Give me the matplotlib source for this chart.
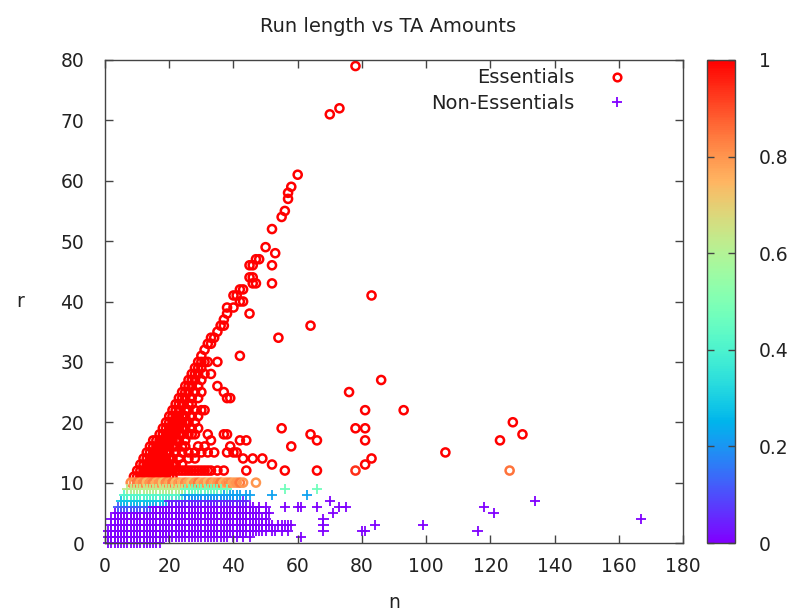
import numpy as np
import matplotlib
matplotlib.use("Agg")
import matplotlib.pyplot as plt
from matplotlib.lines import Line2D
from matplotlib.colors import Normalize
from matplotlib.cm import ScalarMappable

# essential runs, red (probability 1): n -> list of r
ess_cols = {
    9: [11],
    10: [11, 12],
    11: [11, 12, 13],
    12: [11, 12, 13, 14],
    13: [11, 12, 13, 14, 15],
    14: [11, 12, 13, 14, 15, 16],
    15: [11, 12, 13, 14, 15, 16, 17],
    16: [11, 12, 13, 14, 15, 16, 17],
    17: [11, 12, 13, 14, 15, 16, 17, 18],
    18: [11, 12, 13, 14, 15, 16, 17, 18, 19],
    19: [11, 12, 13, 14, 15, 16, 17, 18, 19, 20],
    20: [11, 12, 13, 14, 15, 16, 17, 18, 19, 20, 21],
    21: [11, 12, 13, 14, 16, 17, 18, 19, 20, 21, 22],
    22: [12, 13, 15, 16, 17, 18, 19, 20, 21, 22, 23],
    23: [12, 14, 17, 18, 19, 20, 21, 22, 23, 24],
    24: [12, 13, 15, 16, 18, 19, 20, 21, 23, 24, 25],
    25: [12, 16, 17, 19, 20, 21, 22, 24, 25, 26],
    26: [12, 14, 15, 18, 20, 22, 23, 25, 26, 27],
    27: [12, 18, 19, 21, 23, 24, 26, 27, 28],
    28: [12, 14, 15, 18, 20, 22, 25, 27, 28, 29],
    29: [12, 16, 19, 21, 24, 26, 28, 29, 30],
    30: [12, 15, 22, 25, 27, 29, 30, 31],
    31: [12, 16, 22, 28, 30, 32],
    32: [12, 15, 18, 30, 33],
    33: [12, 17, 28, 33, 34],
    34: [15, 34],
    35: [12, 26, 30, 35],
    36: [36],
    37: [12, 18, 25, 36, 37],
    38: [15, 18, 24, 38, 39],
    39: [16, 24],
    40: [15, 39, 41],
    41: [15, 41],
    42: [17, 31, 40, 42],
    43: [14, 40, 42],
    44: [12, 17],
    45: [38, 44, 46],
    46: [14, 43, 44, 46],
    47: [43, 47],
    48: [47],
    49: [14],
    50: [49],
    52: [13, 43, 46, 52],
    53: [48],
    54: [34],
    55: [19, 54],
    56: [12, 55],
    57: [57, 58],
    58: [16, 59],
    60: [61],
    64: [18, 36],
    66: [12, 17],
    70: [71],
    73: [72],
    76: [25],
    78: [19, 79],
    81: [13, 17, 19, 22],
    83: [14, 41],
    86: [27],
    93: [22],
    106: [15],
    123: [17],
    127: [20],
    130: [18],
}
ess_cols_prob = 1.0

# essential runs with a lower score
ess_low_n = [8, 9, 10, 11, 12, 13, 14, 15, 16, 17, 18, 19, 20, 21, 22, 23, 24,
             25, 26, 27, 28, 29, 30, 31, 32, 33, 34, 35, 36, 37, 38, 39, 40, 41,
             42, 43, 47, 78, 126]
ess_low_r = [10, 10, 10, 10, 10, 10, 10, 10, 10, 10, 10, 10, 10, 10, 10, 10, 10,
             10, 10, 10, 10, 10, 10, 10, 10, 10, 10, 10, 10, 10, 10, 10, 10, 10,
             10, 10, 10, 12, 12]
ess_low_p = [0.82, 0.80, 0.84, 0.78, 0.82, 0.74, 0.80, 0.83, 0.76, 0.80, 0.72, 0.82,
             0.78, 0.84, 0.74, 0.80, 0.76, 0.82, 0.78, 0.72, 0.80, 0.84, 0.76, 0.80,
             0.74, 0.82, 0.78, 0.80, 0.84, 0.76, 0.80, 0.82, 0.78, 0.80, 0.84, 0.80,
             0.80, 0.94, 0.85]

# non-essential runs: (r, probability, list of n)
non_ess_rows = [
    (0, 0.0, [1, 2, 3, 4, 5, 6, 7, 8, 9, 10, 11, 12, 13, 14, 15, 16, 17]),
    (1, 0.0, [1, 2, 3, 4, 5, 6, 7, 8, 9, 10, 11, 12, 13, 14, 15, 16, 17, 18, 19,
              20, 21, 22, 23, 24, 25, 26, 27, 28, 29, 30, 31, 32, 33, 34, 35, 36,
              37, 38, 40, 41, 43, 45, 61]),
    (2, 0.0, [1, 2, 3, 4, 5, 6, 7, 8, 9, 10, 11, 12, 13, 14, 15, 16, 17, 18, 19,
              20, 21, 22, 23, 24, 25, 26, 27, 28, 29, 30, 31, 32, 33, 34, 35, 36,
              37, 38, 39, 40, 41, 42, 43, 44, 45, 46, 47, 48, 49, 50, 52, 53, 55,
              57, 68, 80, 81, 116]),
    (3, 0.0, [2, 3, 4, 5, 6, 7, 8, 9, 10, 11, 12, 13, 14, 15, 16, 17, 18, 19, 20,
              21, 22, 23, 24, 25, 26, 27, 28, 29, 30, 31, 32, 33, 34, 35, 36, 37,
              38, 39, 40, 41, 42, 43, 44, 45, 46, 47, 48, 49, 50, 51, 52, 54, 55,
              56, 57, 58, 68, 84, 99]),
    (4, 0.0, [2, 3, 4, 5, 6, 7, 8, 9, 10, 11, 12, 13, 14, 15, 16, 17, 18, 19, 20,
              21, 22, 23, 24, 25, 26, 27, 28, 29, 30, 31, 32, 33, 34, 35, 36, 37,
              38, 39, 40, 41, 42, 43, 44, 45, 46, 47, 49, 50, 68, 167]),
    (5, 0.0, [3, 4, 5, 6, 7, 8, 9, 10, 11, 12, 13, 14, 15, 16, 17, 18, 19, 20, 21,
              22, 23, 24, 25, 26, 27, 28, 29, 30, 31, 32, 33, 34, 35, 36, 37, 38,
              39, 40, 41, 42, 43, 44, 45, 46, 47, 48, 50, 51, 71, 121]),
    (6, 0.12, [4, 5, 6, 7, 8, 9, 10, 11, 12, 13, 14]),
    (6, 0.0, [15, 16, 17, 18, 19, 20, 21, 22, 23, 24, 25, 26, 27, 28, 29, 30, 31,
              32, 33, 34, 35, 36, 37, 38, 39, 40, 41, 42, 43, 44, 45, 46, 48, 50,
              56, 60, 61, 66, 73, 75, 118]),
    (7, 0.28, [5, 6, 7, 8, 9, 10, 11, 12, 13, 14, 15, 16, 17, 18, 19]),
    (7, 0.05, [20, 21, 22, 23, 24, 25, 26, 27, 28, 29, 30, 31, 32, 33, 34, 35, 36,
               37, 38, 39, 40, 41, 42, 43, 44]),
    (7, 0.0, [70, 134]),
    (8, 0.42, [6, 7, 8, 9, 10, 11, 12, 13, 14, 15, 16, 17, 18, 19, 20, 21, 22, 23,
               24]),
    (8, 0.22, [25, 26, 27, 28, 29, 30, 31, 32, 33, 34, 35, 36, 37, 38, 39, 40, 41,
               42, 44, 45, 52, 63]),
    (9, 0.62, [7, 8, 9, 10, 11, 12, 13, 14, 15, 16, 17, 18, 19, 20, 21, 22, 23,
               24]),
    (9, 0.47, [25, 26, 27, 28, 29, 30, 31, 32, 33, 34, 35, 36, 38, 56, 66]),
]

x_ticks = [0, 20, 40, 60, 80, 100, 120, 140, 160, 180]
y_ticks = [0, 10, 20, 30, 40, 50, 60, 70, 80]
cb_ticks = [0, 0.2, 0.4, 0.6, 0.8, 1]

# flatten the tables into point lists
e_n, e_r, e_p = [], [], []
for n, rs in ess_cols.items():
    for r in rs:
        e_n.append(n)
        e_r.append(r)
        e_p.append(ess_cols_prob)
e_n += ess_low_n
e_r += ess_low_r
e_p += ess_low_p

ne_n, ne_r, ne_p = [], [], []
for r, p, ns in non_ess_rows:
    for n in ns:
        ne_n.append(n)
        ne_r.append(r)
        ne_p.append(p)

txt = "#222222"
plt.rcParams["font.family"] = "DejaVu Sans"
plt.rcParams["font.size"] = 13.5
plt.rcParams["text.color"] = txt
plt.rcParams["axes.labelcolor"] = txt
plt.rcParams["xtick.color"] = "#444444"
plt.rcParams["ytick.color"] = "#444444"
plt.rcParams["xtick.labelcolor"] = txt
plt.rcParams["ytick.labelcolor"] = txt

cmap = plt.get_cmap("rainbow")
norm = Normalize(0, 1)

fig = plt.figure(figsize=(7.92, 6.16), dpi=100)
ax = fig.add_axes([0.1326, 0.1185, 0.7298, 0.7841])

ax.scatter(e_n, e_r, s=34, marker="o", facecolors="none",
           edgecolors=cmap(norm(np.array(e_p))), linewidths=1.8, clip_on=False)
ax.scatter(ne_n, ne_r, s=55, marker="+", c=cmap(norm(np.array(ne_p))),
           linewidths=1.3, clip_on=False)

ax.set_xlim(0, 180)
ax.set_ylim(0, 80)
ax.set_xticks(x_ticks)
ax.set_yticks(y_ticks)
ax.tick_params(direction="in", length=6, width=1, top=True, right=True)
ax.tick_params(axis="x", pad=10)
ax.tick_params(axis="y", pad=15)
for s in ax.spines.values():
    s.set_color("#444444")
    s.set_linewidth(1)

ax.set_title("Run length vs TA Amounts", fontsize=14, pad=20, x=0.49)
ax.set_xlabel("n", labelpad=12)
ax.set_ylabel("r", rotation=0, labelpad=29, va="center")

handles = [
    Line2D([], [], marker="o", ls="none", markersize=5.5, markerfacecolor="none",
           markeredgecolor=cmap(1.0), markeredgewidth=1.8),
    Line2D([], [], marker="+", ls="none", markersize=7.5, color=cmap(0.0),
           markeredgewidth=1.3),
]
ax.legend(handles, ["Essentials", "Non-Essentials"], loc="upper right",
          bbox_to_anchor=(0.97, 1.019), frameon=False, markerfirst=False,
          handlelength=3.2, handletextpad=0.6, labelspacing=0.35, fontsize=14)

cax = fig.add_axes([0.8927, 0.1185, 0.0354, 0.7841])
cb = fig.colorbar(ScalarMappable(norm=norm, cmap=cmap), cax=cax)
cb.set_ticks(cb_ticks)
cb.set_ticklabels(["0", "0.2", "0.4", "0.6", "0.8", "1"])
cax.tick_params(direction="in", length=5, width=1, left=True, right=True, pad=17)
cb.outline.set_edgecolor("#444444")
cb.outline.set_linewidth(1)

fig.savefig("out.png", dpi=100)
